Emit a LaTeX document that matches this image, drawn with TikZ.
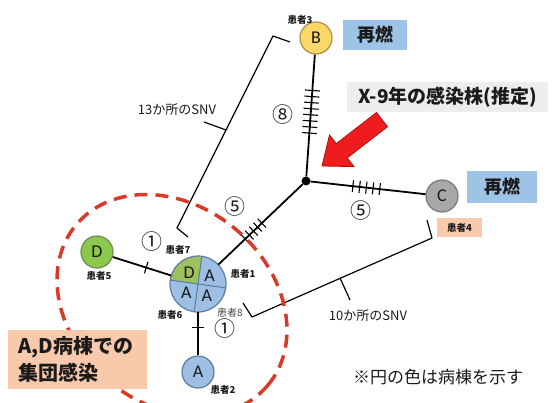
\documentclass[tikz,border=0pt]{standalone}
\usepackage{fontspec}
\setmainfont{Noto Sans CJK JP}
\newfontfamily\latf{Carlito}
\usetikzlibrary{decorations.markings,calc}
\definecolor{yelB}{HTML}{FAD866}
\definecolor{yelD}{HTML}{A8904A}
\definecolor{grayC}{HTML}{A8A8A8}
\definecolor{grayD}{HTML}{7A7A7A}
\definecolor{greenD}{HTML}{8CC84B}
\definecolor{greenDD}{HTML}{6A8F55}
\definecolor{greenP}{HTML}{9CC15E}
\definecolor{blueA}{HTML}{9DBFE3}
\definecolor{blueD}{HTML}{5C7A9E}
\definecolor{blueBox}{HTML}{9DC3E6}
\definecolor{peach}{HTML}{F8C9AB}
\definecolor{grayBox}{HTML}{EDEDED}
\definecolor{redDash}{HTML}{D93A28}
\definecolor{redA}{HTML}{EE1C1C}
\definecolor{redD}{HTML}{B01010}
\definecolor{txt}{HTML}{1A1A1A}
\begin{document}
\begin{tikzpicture}[x=1pt,y=-1pt,
  pt/.style={circle, minimum size=32pt, inner sep=0pt, line width=1.2pt, text=txt, font=\latf\fontsize{18}{18}\selectfont},
  quad/.style={inner sep=0pt, text=txt, font=\latf\fontsize{18}{18}\selectfont},
  lab/.style={inner sep=0pt, text=txt, font=\bfseries\fontsize{9.5}{9.5}\selectfont},
  num/.style={inner sep=0pt, text=txt, font=\fontsize{21}{21}\selectfont},
  snv/.style={inner sep=0pt, text=txt, font=\fontsize{13}{13}\selectfont},
  conn/.style={line width=1.8pt, black},
  brk/.style={line width=1.2pt, black, line join=round},
  ticks/.style n args={4}{postaction={decorate,decoration={markings,
     mark=between positions #1 and #2 step #3 with {\draw[line width=1.1pt,black] (0,-#4)--(0,#4);}}}},
  boxt/.style={inner sep=0pt, text=txt, font=\bfseries\fontsize{18}{18}\selectfont}
]
\useasboundingbox (0,0) rectangle (553,403);

% brackets
\draw[brk] (290,42) -- (273,36) -- (177,228) -- (188,237);
\draw[brk] (226,130) -- (204,122);
\node[snv] (s13) at (177,110) {13か所のSNV};
\draw[brk] (243,303) -- (252,317) -- (432,238) -- (427,220);
\draw[brk] (340,278) -- (350,300);
\node[snv] (s10) at (368,316) {10か所のSNV};

% nodes
\node[circle, fill=black, minimum size=9pt, inner sep=0pt] (J) at (306,181) {};
\node[pt, fill=yelB, draw=yelD] (B) at (316,38) {B};
\node[pt, fill=grayC, draw=grayD] (C) at (442,196) {C};
\node[pt, fill=greenD, draw=greenDD] (D) at (97,252) {D};
\node[pt, fill=blueA, draw=blueD] (A2) at (198,372) {A};
\node[circle, minimum size=56pt, inner sep=0pt, fill=blueA] (P) at (198,284) {};
\fill[greenP] (P.center) -- ++(188:28) arc[start angle=188,end angle=278,radius=28] -- cycle;
\draw[blueD, line width=1pt] ($(P.center)+(8:28)$) -- ($(P.center)+(188:28)$);
\draw[blueD, line width=1pt] ($(P.center)+(98:28)$) -- ($(P.center)+(278:28)$);
\draw[blueD, line width=1.2pt] (P.center) circle[radius=28];
\node[quad] (qD) at ($(P.center)+(233:14.5)$) {D};
\node[quad] (qA1) at ($(P.center)+(323:14.5)$) {A};
\node[quad] (qA6) at ($(P.center)+(143:14.5)$) {A};
\node[quad] (qA8) at ($(P.center)+(53:14.5)$) {A};

% connectors
\draw[conn, ticks={36pt}{79.5pt}{6.1pt}{7.5}] (B) -- (J);
\draw[conn, ticks={42.5pt}{70.5pt}{6.75pt}{6}] (J) -- (C);
\draw[conn, ticks={37pt}{60.5pt}{5.75pt}{6}] (P) -- (J);
\draw[conn, ticks={35pt}{35.5pt}{5pt}{6}] (D) -- (P);
\draw[conn, ticks={15pt}{15.5pt}{5pt}{6}] (P) -- (A2);

% patient labels
\node[lab] (l3) at (300,20) {患者3};
\node[lab] (l5) at (99,276) {患者5};
\node[lab] (l7) at (178,250) {患者7};
\node[lab] (l1) at (243,274) {患者1};
\node[lab] (l6) at (170,315) {患者6};
\node[inner sep=0pt, text=txt!80, font=\fontsize{10}{10}\selectfont] (l8) at (230,313) {患者8};
\node[lab] (l2) at (223,390) {患者2};
\node[lab, fill=peach, minimum width=45pt, minimum height=19pt] (l4) at (459.5,227.5) {患者4};

% circled numbers
\node[num] (n8) at (283,115) {⑧};
\node[num] (n5a) at (235,207) {⑤};
\node[num] (n5b) at (361,211) {⑤};
\node[num] (n1a) at (152,242) {①};
\node[num] (n1b) at (225,329) {①};

% dashed cluster
\draw[redDash, line width=3.5pt, dash pattern=on 13pt off 8pt, rotate around={-40:(172,305)}] (172,305) ellipse [x radius=125, y radius=99];

% boxes
\node[boxt, fill=blueBox, minimum width=64pt, minimum height=30pt] (rB) at (375,35) {再燃};
\node[boxt, fill=blueBox, minimum width=70pt, minimum height=32pt] (rC) at (502,187) {再燃};
\node[boxt, fill=grayBox, minimum width=201pt, minimum height=30pt, font=\bfseries\fontsize{19}{19}\selectfont] (X9) at (447.5,97) {X-9年の感染株(推定)};
\node[fill=peach, minimum width=139pt, minimum height=59pt, inner sep=0pt] (AD) at (77.5,359.5) {};
\node[anchor=west, inner sep=0pt, align=left, text=txt, font=\bfseries\fontsize{20}{27}\selectfont] (ADt) at (18,359) {A,D病棟での\\集団感染};
\node[inner sep=0pt, text=txt, font=\fontsize{17}{17}\selectfont] (note) at (438,377) {※円の色は病棟を示す};

% red arrow
\filldraw[fill=redA, draw=redD, line width=0.8pt, line join=miter]
  (376.5,112.5) -- (336.3,143.6) -- (329.5,135) -- (322,166) -- (354,166.6) -- (347.2,157.9) -- (387.5,126.7) -- cycle;
\end{tikzpicture}
\end{document}
